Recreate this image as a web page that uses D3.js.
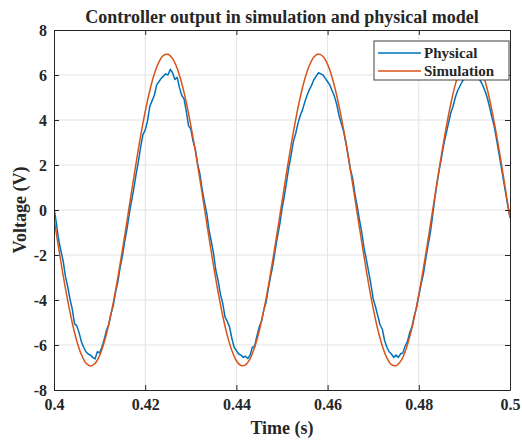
<!DOCTYPE html>
<html>
<head>
<meta charset="utf-8">
<script src="https://cdn.jsdelivr.net/npm/d3@7"></script>
<style>
  body { margin: 0; background: #fff; }
  text { font-family: "Liberation Serif", "Times New Roman", serif; font-weight: bold; fill: #262626; }
</style>
</head>
<body>
<div id="chart"></div>
<script>
// sampling of the two traces (start time and step in seconds)
const timeStart = 0.4;
const simStep = 0.001;
const physStep = 0.0005;

// Simulation output, one value per ms from 0.400 to 0.500 s
const simulation = [
  -0.37, -1.66, -2.90, -4.02, -5.01, -5.82, -6.42, -6.80, -6.93, -6.82,
  -6.47, -5.88, -5.09, -4.12, -3.01, -1.78, -0.50, 0.81, 2.08, 3.29,
  4.37, 5.30, 6.04, 6.57, 6.87, 6.92, 6.73, 6.30, 5.64, 4.79,
  3.76, 2.61, 1.36, 0.06, -1.24, -2.49, -3.66, -4.70, -5.57, -6.24,
  -6.70, -6.91, -6.88, -6.61, -6.10, -5.38, -4.46, -3.39, -2.20, -0.93,
  0.37, 1.66, 2.90, 4.02, 5.01, 5.82, 6.42, 6.80, 6.93, 6.82,
  6.47, 5.88, 5.09, 4.12, 3.01, 1.78, 0.50, -0.81, -2.08, -3.29,
  -4.37, -5.30, -6.04, -6.57, -6.87, -6.92, -6.73, -6.30, -5.64, -4.79,
  -3.76, -2.61, -1.36, -0.06, 1.24, 2.49, 3.66, 4.70, 5.57, 6.24,
  6.70, 6.91, 6.88, 6.61, 6.10, 5.38, 4.46, 3.39, 2.20, 0.93,
  -0.37
];

// Physical model output, one value per 0.5 ms from 0.400 to 0.500 s
const physical = [
  0.10, -0.55, -1.30, -1.80, -2.25, -2.95, -3.40, -3.95, -4.40, -5.05,
  -5.15, -5.45, -5.85, -6.10, -6.30, -6.40, -6.45, -6.55, -6.62, -6.30,
  -6.35, -6.10, -5.75, -5.35, -5.10, -4.60, -4.25, -3.65, -3.20, -2.55,
  -2.05, -1.40, -0.85, -0.18, 0.40, 0.95, 1.58, 2.15, 2.80, 3.35,
  3.55, 3.95, 4.60, 4.85, 5.10, 5.55, 5.70, 5.85, 5.95, 6.05,
  6.00, 6.25, 6.10, 5.80, 5.90, 5.45, 5.10, 4.95, 4.40, 3.75,
  3.60, 3.05, 2.70, 2.05, 1.60, 0.90, 0.35, -0.15, -0.90, -1.40,
  -1.95, -2.70, -3.15, -3.75, -4.15, -4.75, -4.95, -5.20, -5.70, -6.10,
  -6.25, -6.40, -6.45, -6.55, -6.50, -6.60, -6.45, -6.10, -6.05, -5.60,
  -5.20, -4.95, -4.45, -4.10, -3.50, -2.95, -2.45, -1.80, -1.20, -0.65,
  0.05, 0.60, 1.25, 1.90, 2.45, 3.05, 3.40, 3.85, 4.20, 4.45,
  4.80, 5.10, 5.35, 5.55, 5.80, 5.95, 6.10, 6.05, 6.00, 5.85,
  5.70, 5.55, 5.30, 5.05, 4.70, 4.20, 3.85, 3.50, 3.00, 2.45,
  1.80, 1.40, 0.70, 0.15, -0.45, -1.00, -1.70, -2.20, -2.75, -3.30,
  -3.95, -4.30, -4.70, -5.10, -5.30, -5.80, -6.10, -6.30, -6.40, -6.55,
  -6.45, -6.55, -6.40, -6.35, -6.05, -5.85, -5.45, -5.20, -4.70, -4.35,
  -3.80, -3.30, -2.85, -2.20, -1.60, -1.05, -0.30, 0.50, 1.20, 1.80,
  2.35, 2.95, 3.40, 3.85, 4.30, 4.60, 5.00, 5.30, 5.50, 5.70,
  5.85, 5.95, 6.05, 6.10, 6.00, 5.95, 5.85, 5.75, 5.55, 5.30,
  5.00, 4.60, 4.15, 3.75, 3.20, 2.60, 2.00, 1.40, 0.80, 0.20,
  -0.30
];

const xTicks = [0.4, 0.42, 0.44, 0.46, 0.48, 0.5];
const xTickLabels = ["0.4", "0.42", "0.44", "0.46", "0.48", "0.5"];
const yTicks = [-8, -6, -4, -2, 0, 2, 4, 6, 8];
const seriesNames = ["Physical", "Simulation"];
const seriesColors = ["#0072BD", "#D95319"];

const width = 522, height = 443;
const margin = { top: 30, right: 12, bottom: 53, left: 54 };
const innerW = width - margin.left - margin.right;
const innerH = height - margin.top - margin.bottom;

const svg = d3.select("#chart").append("svg")
  .attr("width", width)
  .attr("height", height);

const g = svg.append("g")
  .attr("transform", "translate(" + margin.left + "," + margin.top + ")");

const x = d3.scaleLinear().domain([0.4, 0.5]).range([0, innerW]);
const y = d3.scaleLinear().domain([-8, 8]).range([innerH, 0]);

// grid
g.append("g").selectAll("line").data(xTicks.slice(1, -1)).enter().append("line")
  .attr("x1", d => x(d)).attr("x2", d => x(d))
  .attr("y1", 0).attr("y2", innerH)
  .attr("stroke", "#e3e3e3").attr("stroke-width", 1);
g.append("g").selectAll("line").data(yTicks.slice(1, -1)).enter().append("line")
  .attr("x1", 0).attr("x2", innerW)
  .attr("y1", d => y(d)).attr("y2", d => y(d))
  .attr("stroke", "#e3e3e3").attr("stroke-width", 1);

svg.append("clipPath").attr("id", "plotclip").append("rect")
  .attr("width", innerW).attr("height", innerH);

const plot = g.append("g").attr("clip-path", "url(#plotclip)");

const physLine = d3.line()
  .x((d, i) => x(timeStart + i * physStep))
  .y(d => y(d));
const simLine = d3.line()
  .x((d, i) => x(timeStart + i * simStep))
  .y(d => y(d))
  .curve(d3.curveCatmullRom);

plot.append("path").datum(physical)
  .attr("d", physLine)
  .attr("fill", "none")
  .attr("stroke", seriesColors[0])
  .attr("stroke-width", 1.5)
  .attr("stroke-linejoin", "round");

plot.append("path").datum(simulation)
  .attr("d", simLine)
  .attr("fill", "none")
  .attr("stroke", seriesColors[1])
  .attr("stroke-width", 1.5);

// axes (ticks point inward like MATLAB), plain hyphen for negatives
const xAxis = g.append("g")
  .attr("transform", "translate(0," + innerH + ")")
  .call(d3.axisBottom(x).tickValues(xTicks).tickFormat((d, i) => xTickLabels[i])
    .tickSizeInner(-5).tickSizeOuter(0).tickPadding(9));
const yAxis = g.append("g")
  .call(d3.axisLeft(y).tickValues(yTicks).tickFormat(d => String(d))
    .tickSizeInner(-5).tickSizeOuter(0).tickPadding(7));
g.append("g")
  .call(d3.axisTop(x).tickValues(xTicks).tickFormat("").tickSizeInner(-5).tickSizeOuter(0));
g.append("g")
  .attr("transform", "translate(" + innerW + ",0)")
  .call(d3.axisRight(y).tickValues(yTicks).tickFormat("").tickSizeInner(-5).tickSizeOuter(0));

g.selectAll(".domain").attr("stroke", "#262626");
g.selectAll(".tick line").attr("stroke", "#262626");
g.selectAll(".tick text")
  .style("font-family", "'Liberation Serif', 'Times New Roman', serif")
  .style("font-weight", "bold")
  .style("font-size", "16px")
  .attr("fill", "#262626");

// titles
svg.append("text")
  .attr("x", margin.left + innerW / 2)
  .attr("y", 23)
  .attr("text-anchor", "middle")
  .style("font-size", "18px")
  .text("Controller output in simulation and physical model");

svg.append("text")
  .attr("x", margin.left + innerW / 2)
  .attr("y", 434)
  .attr("text-anchor", "middle")
  .style("font-size", "18px")
  .text("Time (s)");

svg.append("text")
  .attr("transform", "translate(26," + (margin.top + innerH / 2) + ") rotate(-90)")
  .attr("text-anchor", "middle")
  .style("font-size", "18px")
  .text("Voltage (V)");

// legend
const legend = svg.append("g").attr("transform", "translate(374,41)");
legend.append("rect")
  .attr("width", 135).attr("height", 39)
  .attr("fill", "#fff")
  .attr("stroke", "#404040")
  .attr("stroke-width", 1);
seriesNames.forEach((name, i) => {
  const row = legend.append("g").attr("transform", "translate(0," + (12 + i * 18) + ")");
  row.append("line")
    .attr("x1", 4).attr("x2", 47)
    .attr("stroke", seriesColors[i]).attr("stroke-width", 1.5);
  row.append("text")
    .attr("x", 50).attr("y", 5)
    .style("font-size", "15px")
    .text(name);
});
</script>
</body>
</html>
